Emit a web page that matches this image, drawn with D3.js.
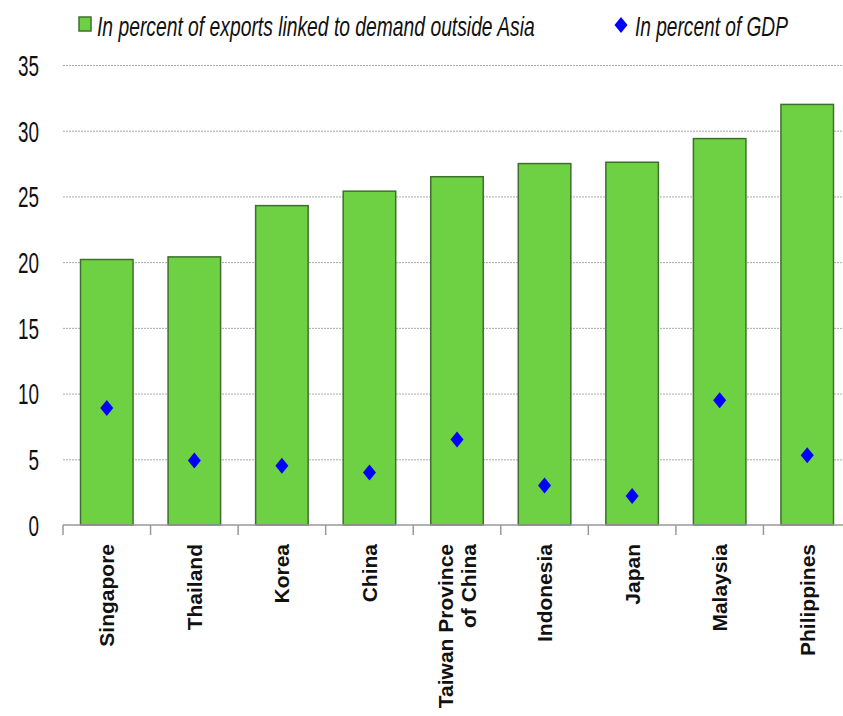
<!DOCTYPE html>
<html>
<head>
<meta charset="utf-8">
<script src="https://cdn.jsdelivr.net/npm/d3@7"></script>
<style>
  body { margin: 0; background: #fff; }
  svg { display: block; }
</style>
</head>
<body>
<div id="chart"></div>
<script>
const countries = ['Singapore', 'Thailand', 'Korea', 'China', 'Taiwan Province|of China', 'Indonesia', 'Japan', 'Malaysia', 'Philippines'];
const exportShare = [20.2, 20.4, 24.3, 25.4, 26.5, 27.5, 27.6, 29.4, 32.0];
const gdpShare = [8.9, 4.9, 4.5, 4.0, 6.5, 3.0, 2.2, 9.5, 5.3];
const yTicks = [0, 5, 10, 15, 20, 25, 30, 35];
const legendLabels = ['In percent of exports linked to demand outside Asia', 'In percent of GDP'];

const width = 843, height = 716;
const margin = { top: 65, right: -8, bottom: 191, left: 63 };
const innerW = width - margin.left - margin.right;
const innerH = height - margin.top - margin.bottom;

const font = "'Liberation Sans', Arial, sans-serif";

// diamond with its own width/height
const diamond = (hw, hh) => `M0,${-hh}L${hw},0L0,${hh}L${-hw},0Z`;

const svg = d3.select('#chart').append('svg')
  .attr('width', width)
  .attr('height', height);

const g = svg.append('g')
  .attr('transform', `translate(${margin.left},${margin.top})`);

const x = d3.scaleBand().domain(countries).range([0, innerW]).paddingInner(0.4).paddingOuter(0.2);
const y = d3.scaleLinear().domain([0, 35]).range([innerH, 0]);

// grid lines
g.selectAll('.grid')
  .data(yTicks.filter(d => d > 0))
  .enter()
  .append('line')
  .attr('x1', 0)
  .attr('x2', width - margin.left)
  .attr('y1', d => y(d) + 0.5)
  .attr('y2', d => y(d) + 0.5)
  .attr('stroke', '#a8a8a8')
  .attr('stroke-width', 1)
  .attr('stroke-dasharray', '2,1');

// y labels (narrow font look: squeeze horizontally)
g.selectAll('.ytick')
  .data(yTicks)
  .enter()
  .append('text')
  .attr('transform', d => `translate(-24,${y(d)}) scale(0.63,1)`)
  .attr('dy', '0.36em')
  .attr('text-anchor', 'end')
  .style('font-family', font)
  .style('font-size', '30px')
  .style('fill', '#111')
  .text(d => d);

// bars
g.selectAll('.bar')
  .data(countries)
  .enter()
  .append('rect')
  .attr('x', d => x(d))
  .attr('y', (d, i) => y(exportShare[i]))
  .attr('width', x.bandwidth())
  .attr('height', (d, i) => y(0) - y(exportShare[i]))
  .attr('fill', '#6dd143')
  .attr('stroke', '#3e6f2c')
  .attr('stroke-width', 1.5);

// diamonds
g.selectAll('.dot')
  .data(countries)
  .enter()
  .append('path')
  .attr('d', diamond(6.5, 8))
  .attr('transform', (d, i) => `translate(${x(d) + x.bandwidth() / 2},${y(gdpShare[i])})`)
  .attr('fill', '#0000ff');

// x axis
const step = x.step();
const xAxis = g.append('g').attr('transform', `translate(0,${innerH})`);
xAxis.append('line')
  .attr('x1', 0).attr('x2', width - margin.left)
  .attr('y1', 0).attr('y2', 0)
  .attr('stroke', '#999').attr('stroke-width', 1.5);
xAxis.selectAll('.tick')
  .data(d3.range(countries.length))
  .enter()
  .append('line')
  .attr('x1', i => x(countries[i]) - x.paddingInner() * step / 2)
  .attr('x2', i => x(countries[i]) - x.paddingInner() * step / 2)
  .attr('y1', 0).attr('y2', 10)
  .attr('stroke', '#999').attr('stroke-width', 1.5);

// category labels
xAxis.selectAll('.xlab')
  .data(countries)
  .enter()
  .append('text')
  .attr('transform', d => `translate(${x(d) + x.bandwidth() / 2},19) rotate(-90)`)
  .attr('text-anchor', 'end')
  .style('font-family', font)
  .style('font-weight', 'bold')
  .style('font-size', '21px')
  .style('fill', '#111')
  .each(function (d) {
    const lines = d.split('|');
    const t = d3.select(this);
    lines.forEach((line, j) => {
      t.append('tspan')
        .attr('x', 0)
        .attr('dy', j === 0 ? (lines.length > 1 ? '-0.2em' : '0.36em') : '1.1em')
        .text(line);
    });
  });

// legend
const legend = svg.append('g');
const legendText = (label, lx, targetW) => {
  const t = legend.append('text')
    .attr('x', 0).attr('y', 0)
    .style('font-family', font)
    .style('font-style', 'italic')
    .style('font-size', '27px')
    .style('fill', '#111')
    .text(label);
  const natural = t.node().getComputedTextLength();
  t.attr('transform', `translate(${lx},36) scale(${targetW / natural},1)`);
};
legend.append('rect')
  .attr('x', 79).attr('y', 17)
  .attr('width', 12).attr('height', 14)
  .attr('fill', '#6dd143')
  .attr('stroke', '#3e6f2c')
  .attr('stroke-width', 1.5);
legendText(legendLabels[0], 97, 438);
legend.append('path')
  .attr('d', diamond(6.5, 8))
  .attr('transform', 'translate(621,25)')
  .attr('fill', '#0000ff');
legendText(legendLabels[1], 635, 153);
</script>
</body>
</html>
